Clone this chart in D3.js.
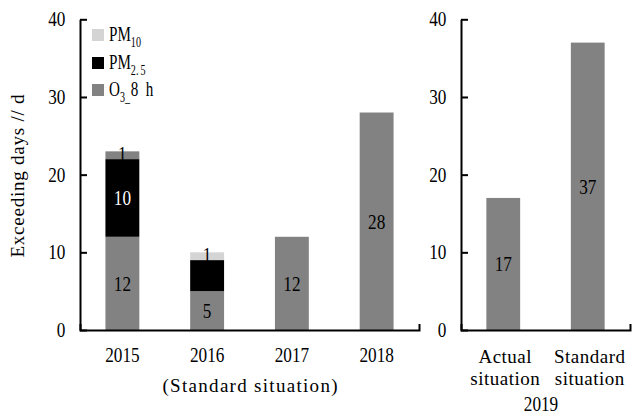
<!DOCTYPE html>
<html>
<head>
<meta charset="utf-8">
<script src="https://cdn.jsdelivr.net/npm/d3@7/dist/d3.min.js"></script>
<style>
  html, body { margin: 0; padding: 0; background: #fff; }
  svg { display: block; font-family: "Liberation Serif", "Times New Roman", serif; }
</style>
</head>
<body>
<script>
// Exceeding days per year, stacked by pollutant (standard situation)
const years = ["2015", "2016", "2017", "2018"];
const o3Days = [12, 5, 12, 28];
const pm25Days = [10, 4, 0, 0];
const pm10Days = [1, 1, 0, 0];
// which PM2.5 segments carry a value label
const pm25Labelled = [true, false, false, false];

// 2019: actual vs. standard situation (O3-8h only)
const situations2019 = [["Actual", "situation"], ["Standard", "situation"]];
const o3Days2019 = [17, 37];

const yTicks = [0, 10, 20, 30, 40];

const W = 633, H = 417;
const GRAY = "#828282", LIGHT = "#d4d4d4", BLACK = "#000";

const svg = d3.select("body").append("svg").attr("width", W).attr("height", H);

const y = d3.scaleLinear().domain([0, 40]).range([330, 19.3]);

// condensed text helper
function cText(g, x, yy, str, size, sx, anchor) {
  return g.append("text")
    .attr("transform", `translate(${x},${yy}) scale(${sx},1)`)
    .attr("text-anchor", anchor || "middle")
    .attr("font-size", size)
    .text(str);
}

function yAxis(xPos) {
  const g = svg.append("g").attr("transform", `translate(${xPos},0)`)
    .call(d3.axisLeft(y).tickValues(yTicks).tickSizeInner(-7).tickSizeOuter(0).tickPadding(17));
  g.select(".domain").attr("stroke", "#000").attr("stroke-width", 2);
  g.selectAll(".tick line").attr("stroke", "#000").attr("stroke-width", 2);
  g.selectAll(".tick text")
    .attr("font-family", "Liberation Serif, serif")
    .attr("font-size", 20).attr("fill", "#000")
    .attr("dy", "0.33em")
    .attr("transform", "scale(0.86,1)");
  return g;
}

// ---------- left panel ----------
const xL = d3.scaleBand().domain(years).range([80, 419]).paddingInner(0.6).paddingOuter(0.3);

const table = years.map((yr, i) => ({ year: yr, O3: o3Days[i], PM25: pm25Days[i], PM10: pm10Days[i] }));
const keys = ["O3", "PM25", "PM10"];
const stacked = d3.stack().keys(keys)(table);
const fillOf = (key, yr) => {
  if (key === "O3") return GRAY;
  if (key === "PM25") return BLACK;
  return yr === "2015" ? GRAY : LIGHT;
};

const barsL = svg.append("g");
stacked.forEach(layer => {
  barsL.selectAll(null).data(layer.filter(d => d[1] > d[0])).join("rect")
    .attr("x", d => xL(d.data.year))
    .attr("width", xL.bandwidth())
    .attr("y", d => y(d[1]))
    .attr("height", d => y(d[0]) - y(d[1]))
    .attr("fill", d => fillOf(layer.key, d.data.year));
});

// value labels
const labL = svg.append("g");
stacked.forEach(layer => {
  layer.forEach((d, i) => {
    const v = d[1] - d[0];
    if (v <= 0) return;
    if (layer.key === "PM25" && !pm25Labelled[i]) return;
    const cx = xL(d.data.year) + xL.bandwidth() / 2;
    const cy = (y(d[0]) + y(d[1])) / 2 + (layer.key === "PM10" ? -2 : 0);
    cText(labL, cx, cy, String(v), 21, 0.82)
      .attr("dy", "0.35em")
      .attr("fill", layer.key === "PM25" ? "#fff" : "#000");
  });
});

yAxis(80);
const xAxL = svg.append("g").attr("transform", "translate(0,330)")
  .call(d3.axisBottom(xL).tickSizeInner(0).tickSizeOuter(-6).tickFormat(""));
xAxL.select(".domain").attr("stroke", "#000").attr("stroke-width", 2);
xAxL.selectAll(".tick line").remove();
years.forEach(yr => cText(svg, xL(yr) + xL.bandwidth() / 2, 362, yr, 21, 0.82));

svg.append("text")
  .attr("x", 250).attr("y", 392)
  .attr("text-anchor", "middle").attr("font-size", 19)
  .attr("textLength", 175).attr("lengthAdjust", "spacing")
  .text("(Standard situation)");

// y-axis title
svg.append("text")
  .attr("transform", "translate(24,176) rotate(-90)")
  .attr("text-anchor", "middle").attr("font-size", 19)
  .attr("textLength", 163).attr("lengthAdjust", "spacing")
  .text("Exceeding days // d");

// legend
const legendItems = [
  { fill: LIGHT, main: "PM", sub: ["10"], tail: null, base: 41 },
  { fill: BLACK, main: "PM", sub: ["2.", "5"], tail: null, base: 69 },
  { fill: GRAY, main: "O", sub: ["3_"], tail: "8\u00a0\u00a0h", base: 96 }
];
const lg = svg.append("g");
legendItems.forEach(it => {
  lg.append("rect").attr("x", 92).attr("y", it.base - 12).attr("width", 12).attr("height", 12).attr("fill", it.fill);
  const t = lg.append("text")
    .attr("transform", `translate(109,${it.base}) scale(0.72,1)`)
    .attr("font-size", 21);
  t.append("tspan").text(it.main);
  t.append("tspan").attr("font-size", 14).attr("dy", 6).text(it.sub[0]);
  if (it.sub[1]) t.append("tspan").attr("font-size", 14).attr("dx", 3).text(it.sub[1]);
  if (it.tail) t.append("tspan").attr("dy", -6).attr("dx", 1).text(it.tail);
});

// ---------- right panel (2019) ----------
const names2019 = situations2019.map(s => s.join(" "));
const xR = d3.scaleBand().domain(names2019).range([461, 630]).paddingInner(0.6).paddingOuter(0.3);

svg.append("g").selectAll("rect").data(names2019).join("rect")
  .attr("x", d => xR(d))
  .attr("width", xR.bandwidth())
  .attr("y", (d, i) => y(o3Days2019[i]))
  .attr("height", (d, i) => y(0) - y(o3Days2019[i]))
  .attr("fill", GRAY);

names2019.forEach((nm, i) => {
  const v = o3Days2019[i];
  cText(svg, xR(nm) + xR.bandwidth() / 2, (y(0) + y(v)) / 2, String(v), 21, 0.82).attr("dy", "0.35em");
});

yAxis(461);
const xAxR = svg.append("g").attr("transform", "translate(0,330)")
  .call(d3.axisBottom(xR).tickSizeInner(0).tickSizeOuter(-6).tickFormat(""));
xAxR.select(".domain").attr("stroke", "#000").attr("stroke-width", 2);
xAxR.selectAll(".tick line").remove();

situations2019.forEach((lines, i) => {
  const cx = xR(names2019[i]) + xR.bandwidth() / 2 + 2;
  lines.forEach((ln, j) => {
    svg.append("text").attr("x", cx).attr("y", 363 + j * 22)
      .attr("text-anchor", "middle").attr("font-size", 19)
      .attr("letter-spacing", 0.5)
      .text(ln);
  });
});
cText(svg, 541, 411, "2019", 21, 0.82);
</script>
</body>
</html>
